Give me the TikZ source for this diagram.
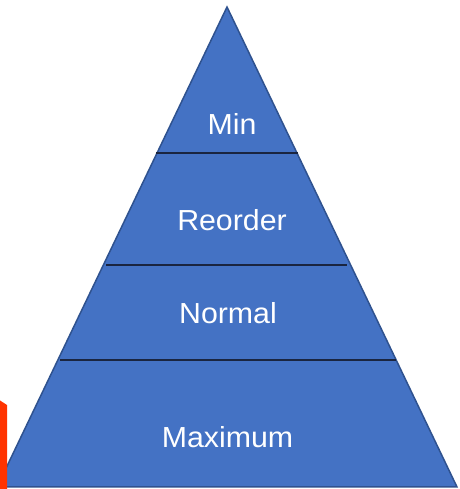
\documentclass[tikz,border=0pt]{standalone}
\usepackage{fontspec}
\setmainfont{Liberation Sans}
\definecolor{pyrblue}{HTML}{4472C4}
\definecolor{pyredge}{HTML}{2F528F}
\definecolor{sepline}{HTML}{1A2540}
\definecolor{orangebar}{RGB}{255,51,0}
\newcommand{\lbltxt}[1]{\scalebox{1.045}[1]{#1}}
\tikzset{
  label/.style={text=white, font=\fontsize{29}{34}\selectfont, anchor=base, inner sep=0pt},
  sep/.style={draw=sepline, line width=1.5pt},
}
\begin{document}
\begin{tikzpicture}[x=1pt,y=1pt]
\useasboundingbox (0,0) rectangle (459,489);
\clip (0,0) rectangle (459,489);
% pyramid
\coordinate (apex) at (227,482);
\coordinate (bl) at (-3,2);
\coordinate (br) at (457,2);
\filldraw[fill=pyrblue, draw=pyredge, line width=1.5pt, line join=miter] (apex) -- (br) -- (bl) -- cycle;
% separators
\draw[sep] (156,336) -- (298,336);
\draw[sep] (106,224) -- (347,224);
\draw[sep] (60,129) -- (396,129);
% labels
\node[label] (min) at (232,354) {\lbltxt{Min}};
\node[label] (reorder) at (232,258.3) {\lbltxt{Reorder}};
\node[label] (normal) at (228,165.7) {\lbltxt{Normal}};
\node[label] (maximum) at (227.5,41.7) {\lbltxt{Maximum}};
% orange bar
\fill[orangebar] (0,0) -- (7,0) -- (7,84) -- (0,88.5) -- cycle;
\end{tikzpicture}
\end{document}
